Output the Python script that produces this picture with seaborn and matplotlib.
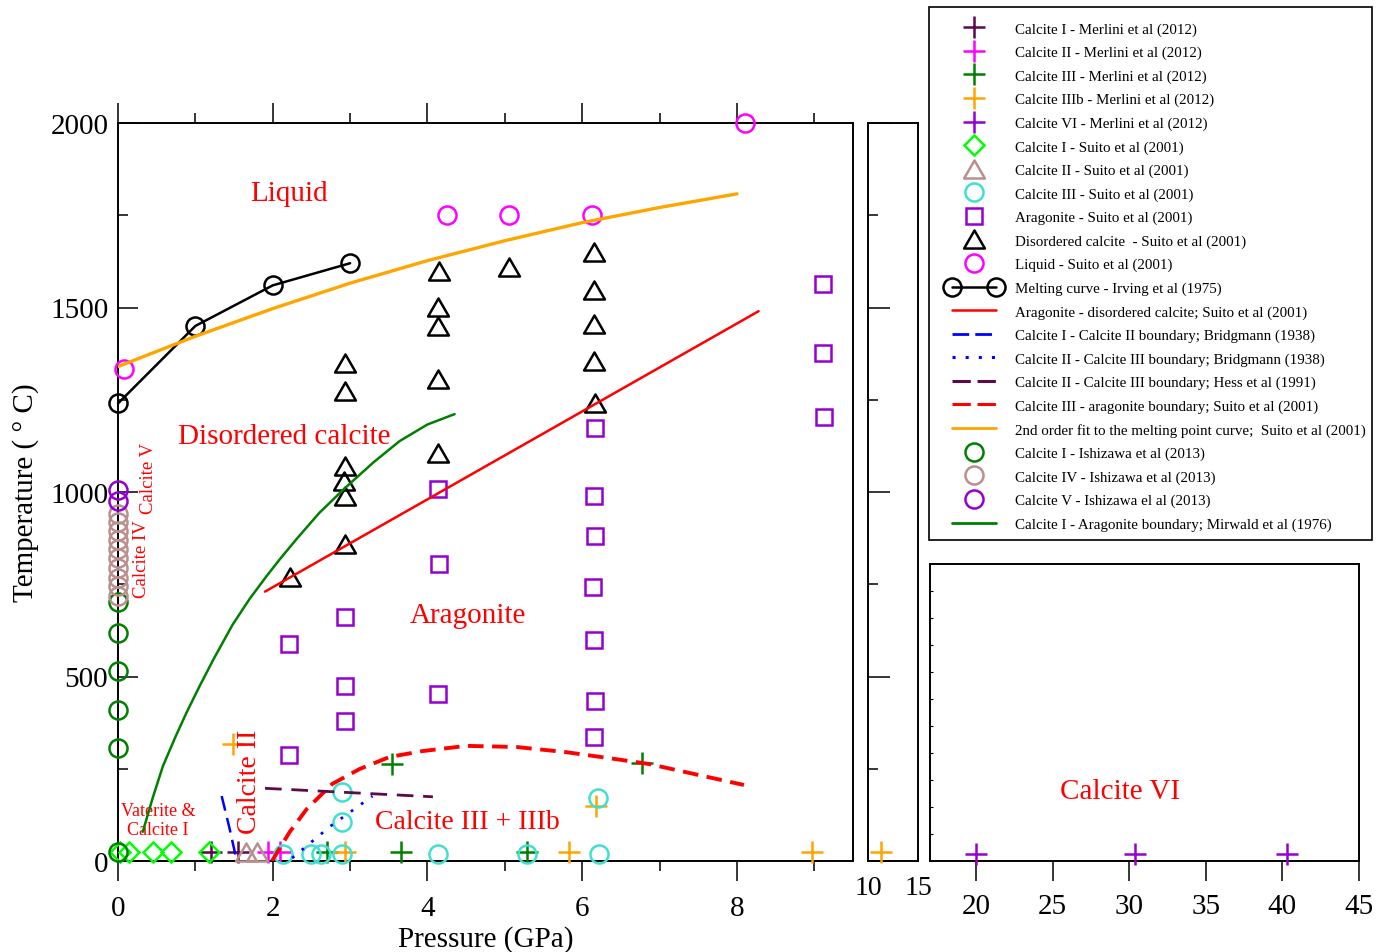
import matplotlib
matplotlib.use('Agg')
import matplotlib.pyplot as plt
import seaborn as sns
from matplotlib.lines import Line2D
from matplotlib.patches import Rectangle
from matplotlib.path import Path
from matplotlib.legend_handler import HandlerLine2D
from matplotlib.ticker import MultipleLocator, FixedLocator, NullFormatter

sns.set_theme(style='white')
plt.rcParams['font.family'] = ['Liberation Serif', 'DejaVu Serif']
for k in ['text.color', 'axes.labelcolor', 'xtick.color', 'ytick.color', 'axes.edgecolor']:
    plt.rcParams[k] = 'black'
plt.rcParams['axes.linewidth'] = 1.4

# ---------------- data (pressure GPa, temperature C) ----------------
merlini_I_p = [1.20, 1.55]
merlini_I_t = [25, 25]
merlini_II_p = [1.94, 2.09]
merlini_II_t = [25, 25]
merlini_III_p = [2.70, 3.54, 3.66, 5.28, 6.77]
merlini_III_t = [25, 263, 25, 25, 265]
merlini_IIIb_p = [1.48, 2.93, 5.83, 6.18, 8.97, 11.3]
merlini_IIIb_t = [317, 25, 25, 149, 25, 25]
merlini_VI_p = [20.0, 30.4, 40.3]
merlini_VI_t = [25, 25, 25]

suito_I_p = [0.02, 0.14, 0.45, 0.68, 1.18]
suito_I_t = [25, 25, 25, 25, 25]
suito_II_p = [1.65, 1.80]
suito_II_t = [25, 25]
suito_III_p = [2.13, 2.50, 2.63, 2.90, 2.90, 2.90, 4.13, 5.28, 6.21, 6.22]
suito_III_t = [20, 20, 20, 20, 106, 187, 20, 20, 171, 20]
arag_p = [2.21, 2.21, 2.93, 2.93, 2.93, 4.14, 4.15, 4.14, 6.17, 6.15, 6.17,
          6.14, 6.15, 6.17, 6.15, 9.11, 9.11, 9.12]
arag_t = [588, 287, 661, 474, 379, 1008, 805, 453, 1173, 989, 881,
          743, 599, 434, 336, 1564, 1377, 1203]
dis_p = [2.22, 2.93, 2.94, 2.93, 2.92, 2.93, 2.93, 4.15, 4.14, 4.14, 4.13, 4.14,
         5.06, 6.15, 6.15, 6.15, 6.15, 6.17]
dis_t = [770, 1350, 1274, 1070, 1030, 989, 859, 1599, 1501, 1450, 1306, 1106,
         1610, 1650, 1547, 1455, 1355, 1241]
liq_p = [0.08, 4.25, 5.06, 6.13, 8.10]
liq_t = [1333, 1750, 1750, 1750, 2000]

irving_p = [0, 1, 2, 3]
irving_t = [1240, 1450, 1560, 1620]
arag_dis_p = [1.90, 8.28]
arag_dis_t = [730, 1490]
bridg12_p = [1.34, 1.44, 1.53]
bridg12_t = [176, 90, 5]
bridg23_p = [2.25, 2.75, 3.29]
bridg23_t = [8, 95, 176]
hess_p = [1.90, 4.07]
hess_t = [197, 174]
c3arag_p = [1.99, 2.22, 2.44, 2.77, 3.12, 3.51, 3.94, 4.50, 5.15, 5.79, 6.44, 6.86, 8.09]
c3arag_t = [0, 79, 141, 209, 249, 282, 298, 312, 309, 295, 276, 263, 206]
fit_p = [0, 1, 2, 3, 4, 5, 6, 7, 8]
fit_t = [1340, 1422, 1497, 1566, 1627, 1681, 1730, 1771, 1808]
mirwald_p = [0.32, 0.45, 0.58, 0.75, 0.89, 1.05, 1.23, 1.48, 1.70, 1.92, 2.10,
             2.31, 2.60, 2.93, 3.30, 3.64, 4.00, 4.35]
mirwald_t = [79, 172, 257, 340, 404, 472, 545, 640, 710, 772, 820,
             873, 943, 1010, 1080, 1138, 1183, 1211]

ish_I_p = [0, 0, 0, 0, 0, 0]
ish_I_t = [25, 306, 409, 514, 618, 702]
ish_IV_p = [0, 0, 0, 0, 0, 0, 0, 0, 0, 0]
ish_IV_t = [718, 745, 768, 795, 820, 846, 870, 893, 918, 940]
ish_V_p = [0, 0]
ish_V_t = [976, 1006]

# ---------------- colours ----------------
C_MAROON = '#5b0a4a'
C_MAG = '#ff00ff'
C_GREEN = '#008000'
C_ORANGE = '#ffa500'
C_VIOLET = '#9400d3'
C_LIME = '#00ff00'
C_ROSY = '#bc8f8f'
C_TURQ = '#40e0d0'

TRI = Path([(-1, -0.866), (1, -0.866), (0, 0.866), (-1, -0.866)], closed=True)

fig = plt.figure(figsize=(13.92, 9.53), dpi=100)
ax = fig.add_axes([118/1392, 1-862/953, 735/1392, 738/953])
ax2 = fig.add_axes([868/1392, 1-862/953, 50/1392, 738/953])
ax3 = fig.add_axes([930/1392, 1-862/953, 429/1392, 297/953])
for a in (ax, ax2, ax3):
    for s in a.spines.values():
        s.set_color('black')
        s.set_linewidth(1.4)

def pts(a, xs, ys, lo, hi, **kw):
    sel = [(x, y) for x, y in zip(xs, ys) if lo <= x <= hi]
    if not sel:
        return
    sx, sy = zip(*sel)
    sns.lineplot(x=list(sx), y=list(sy), ax=a, estimator=None, sort=False,
                 clip_on=False, **kw)

cross = dict(marker='+', linestyle='', markersize=15.5, markeredgewidth=1.8, zorder=3)
def openm(m, c, ms):
    return dict(marker=m, linestyle='', markersize=ms, markeredgewidth=1.8,
                markerfacecolor='none', markeredgecolor=c, color=c, zorder=3)

series = [
    (merlini_I_p, merlini_I_t, dict(color=C_MAROON, markeredgecolor=C_MAROON, **cross)),
    (merlini_II_p, merlini_II_t, dict(color=C_MAG, markeredgecolor=C_MAG, **cross)),
    (merlini_III_p, merlini_III_t, dict(color=C_GREEN, markeredgecolor=C_GREEN, **cross)),
    (merlini_IIIb_p, merlini_IIIb_t, dict(color=C_ORANGE, markeredgecolor=C_ORANGE, **cross)),
    (merlini_VI_p, merlini_VI_t, dict(color=C_VIOLET, markeredgecolor=C_VIOLET, **cross)),
    (suito_I_p, suito_I_t, openm('D', C_LIME, 10.5)),
    (suito_II_p, suito_II_t, openm(TRI, C_ROSY, 15)),
    (suito_III_p, suito_III_t, openm('o', C_TURQ, 13)),
    (arag_p, arag_t, openm('s', C_VIOLET, 11)),
    (dis_p, dis_t, openm(TRI, 'black', 15)),
    (liq_p, liq_t, openm('o', C_MAG, 13)),
    (ish_I_p, ish_I_t, openm('o', C_GREEN, 13)),
    (ish_IV_p, ish_IV_t, openm('o', C_ROSY, 13)),
    (ish_V_p, ish_V_t, openm('o', C_VIOLET, 13)),
]
ranges = [(ax, -0.5, 9.5), (ax2, 10, 15), (ax3, 17, 45)]
for xs, ys, kw in series:
    for a, lo, hi in ranges:
        pts(a, xs, ys, lo, hi, **kw)

# lines
def line(xs, ys, **kw):
    sns.lineplot(x=xs, y=ys, ax=ax, estimator=None, sort=False, **kw)

line(irving_p, irving_t, color='black', linewidth=1.8, marker='o', markersize=13,
     markerfacecolor='none', markeredgecolor='black', markeredgewidth=1.8,
     clip_on=False, zorder=4)
line(fit_p, fit_t, color=C_ORANGE, linewidth=2.4, zorder=4)
line(arag_dis_p, arag_dis_t, color='red', linewidth=1.8, zorder=4)
line(mirwald_p, mirwald_t, color=C_GREEN, linewidth=1.8, zorder=4)
line(c3arag_p, c3arag_t, color='red', linewidth=2.8, dashes=(4, 2.2), zorder=4)
line(hess_p, hess_t, color=C_MAROON, linewidth=2.0, dashes=(6, 3.5), zorder=4)
line(bridg12_p, bridg12_t, color='blue', linewidth=1.8, dashes=(6, 3), zorder=4)
line(bridg23_p, bridg23_t, color='blue', linewidth=2.0, dashes=(1, 3.5), zorder=4)

# ---------------- axes formatting ----------------
ax.set_xlim(0, 9.5)
ax.set_ylim(0, 2000)
ax.xaxis.set_major_locator(MultipleLocator(2))
ax.xaxis.set_minor_locator(MultipleLocator(1))
ax.yaxis.set_major_locator(MultipleLocator(500))
ax.yaxis.set_minor_locator(MultipleLocator(250))
ax.tick_params(axis='x', which='both', direction='out', top=True, bottom=True,
               labeltop=False, width=1.1, labelsize=21, pad=10)
ax.tick_params(axis='x', which='major', length=14.4)
ax.tick_params(axis='x', which='minor', length=7.2)
ax.tick_params(axis='y', which='both', direction='in', left=True, right=False,
               width=1.1, labelsize=21, pad=7)
ax.tick_params(axis='y', which='major', length=14.4)
ax.tick_params(axis='y', which='minor', length=7.2)
ax.set_xlabel('Pressure (GPa)', fontsize=21)
ax.set_ylabel('Temperature ( ° C)', fontsize=21)
ax.xaxis.set_label_coords(0.5, -0.087)
ax.yaxis.set_label_coords(-0.108, 0.5)

ax2.set_xlim(10, 15)
ax2.set_ylim(0, 2000)
ax2.xaxis.set_major_locator(FixedLocator([10, 15]))
ax2.yaxis.set_major_locator(MultipleLocator(500))
ax2.yaxis.set_minor_locator(MultipleLocator(250))
ax2.yaxis.set_major_formatter(NullFormatter())
ax2.tick_params(axis='x', which='both', length=0, labelsize=20, pad=10, bottom=True)
ax2.tick_params(axis='y', which='both', direction='in', left=True, right=False, width=1.1)
ax2.tick_params(axis='y', which='major', length=15.5)
ax2.tick_params(axis='y', which='minor', length=7.5)

ax3.set_xlim(17, 45)
ax3.set_ylim(0, 1100)
ax3.xaxis.set_major_locator(MultipleLocator(5))
ax3.yaxis.set_major_locator(FixedLocator([]))
ax3.yaxis.set_minor_locator(MultipleLocator(100))
ax3.tick_params(axis='x', which='major', direction='out', length=14.4, width=1.1,
                labelsize=21, pad=9, bottom=True)
ax3.tick_params(axis='y', which='minor', direction='in', length=2.5, width=0.8, left=True)

# ---------------- region labels ----------------
red = dict(color='red', ha='center', va='center')
ax.text(2.21, 1810, 'Liquid', fontsize=21, **red)
ax.text(2.15, 1152, 'Disordered calcite', fontsize=21, **red)
ax.text(4.52, 667, 'Aragonite', fontsize=21, **red)
ax.text(4.52, 108, 'Calcite III + IIIb', fontsize=20, **red)
ax.text(1.70, 217, 'Calcite II', fontsize=20, rotation=90, **red)
ax.text(0.52, 111, 'Vaterite &\nCalcite I', fontsize=13, linespacing=1.2, **red)
ax.text(0.31, 821, 'Calcite IV', fontsize=13.5, rotation=90, **red)
ax.text(0.39, 1040, 'Calcite V', fontsize=13.5, rotation=90, **red)
ax3.text(29.4, 259, 'Calcite VI', fontsize=21, **red)

# ---------------- legend ----------------
def mk(m, c, ms, mew=1.8):
    if m == '+':
        return Line2D([], [], linestyle='', marker='+', markersize=15.5,
                      markeredgewidth=mew, color=c)
    return Line2D([], [], linestyle='', marker=m, markersize=ms, markeredgewidth=mew,
                  markerfacecolor='none', markeredgecolor=c, color=c)

h_irving = Line2D([], [], color='black', linewidth=1.8, marker='o', markersize=13,
                  markerfacecolor='none', markeredgecolor='black', markeredgewidth=1.8)
handles = [
    mk('+', C_MAROON, 15), mk('+', C_MAG, 15), mk('+', C_GREEN, 15),
    mk('+', C_ORANGE, 15), mk('+', C_VIOLET, 15),
    mk('D', C_LIME, 10.5), mk(TRI, C_ROSY, 15), mk('o', C_TURQ, 13),
    mk('s', C_VIOLET, 11), mk(TRI, 'black', 15), mk('o', C_MAG, 13),
    h_irving,
    Line2D([], [], color='red', linewidth=1.8),
    Line2D([], [], color='blue', linewidth=2.0, dashes=(6, 2.2)),
    Line2D([], [], color='blue', linewidth=2.2, dashes=(1, 3.3)),
    Line2D([], [], color=C_MAROON, linewidth=2.2, dashes=(6, 2.2)),
    Line2D([], [], color='red', linewidth=2.2, dashes=(6, 2.2)),
    Line2D([], [], color=C_ORANGE, linewidth=2.0),
    mk('o', C_GREEN, 13), mk('o', C_ROSY, 13), mk('o', C_VIOLET, 13),
    Line2D([], [], color=C_GREEN, linewidth=2.0),
]
labels = [
    'Calcite I - Merlini et al (2012)',
    'Calcite II - Merlini et al (2012)',
    'Calcite III - Merlini et al (2012)',
    'Calcite IIIb - Merlini et al (2012)',
    'Calcite VI - Merlini et al (2012)',
    'Calcite I - Suito et al (2001)',
    'Calcite II - Suito et al (2001)',
    'Calcite III - Suito et al (2001)',
    'Aragonite - Suito et al (2001)',
    'Disordered calcite  - Suito et al (2001)',
    'Liquid - Suito et al (2001)',
    'Melting curve - Irving et al (1975)',
    'Aragonite - disordered calcite; Suito et al (2001)',
    'Calcite I - Calcite II boundary; Bridgmann (1938)',
    'Calcite II - Calcite III boundary; Bridgmann (1938)',
    'Calcite II - Calcite III boundary; Hess et al (1991)',
    'Calcite III - aragonite boundary; Suito et al (2001)',
    '2nd order fit to the melting point curve;  Suito et al (2001)',
    'Calcite I - Ishizawa et al (2013)',
    'Calcite IV - Ishizawa et al (2013)',
    'Calcite V - Ishizawa el al (2013)',
    'Calcite I - Aragonite boundary; Mirwald et al (1976)',
]
leg = fig.legend(handles, labels, loc='upper left',
                 bbox_to_anchor=(952/1392, 1-23/953), bbox_transform=fig.transFigure,
                 frameon=False, fontsize=10.8, handlelength=2.9, handletextpad=1.3,
                 labelspacing=0.66, borderpad=0, borderaxespad=0, numpoints=1,
                 handler_map={h_irving: HandlerLine2D(numpoints=2, marker_pad=0)})
fig.add_artist(Rectangle((929/1392, 1-541/953), 443/1392, 533/953,
                         transform=fig.transFigure, fill=False,
                         edgecolor='black', linewidth=1.2))

fig.savefig('out.png', dpi=100)
